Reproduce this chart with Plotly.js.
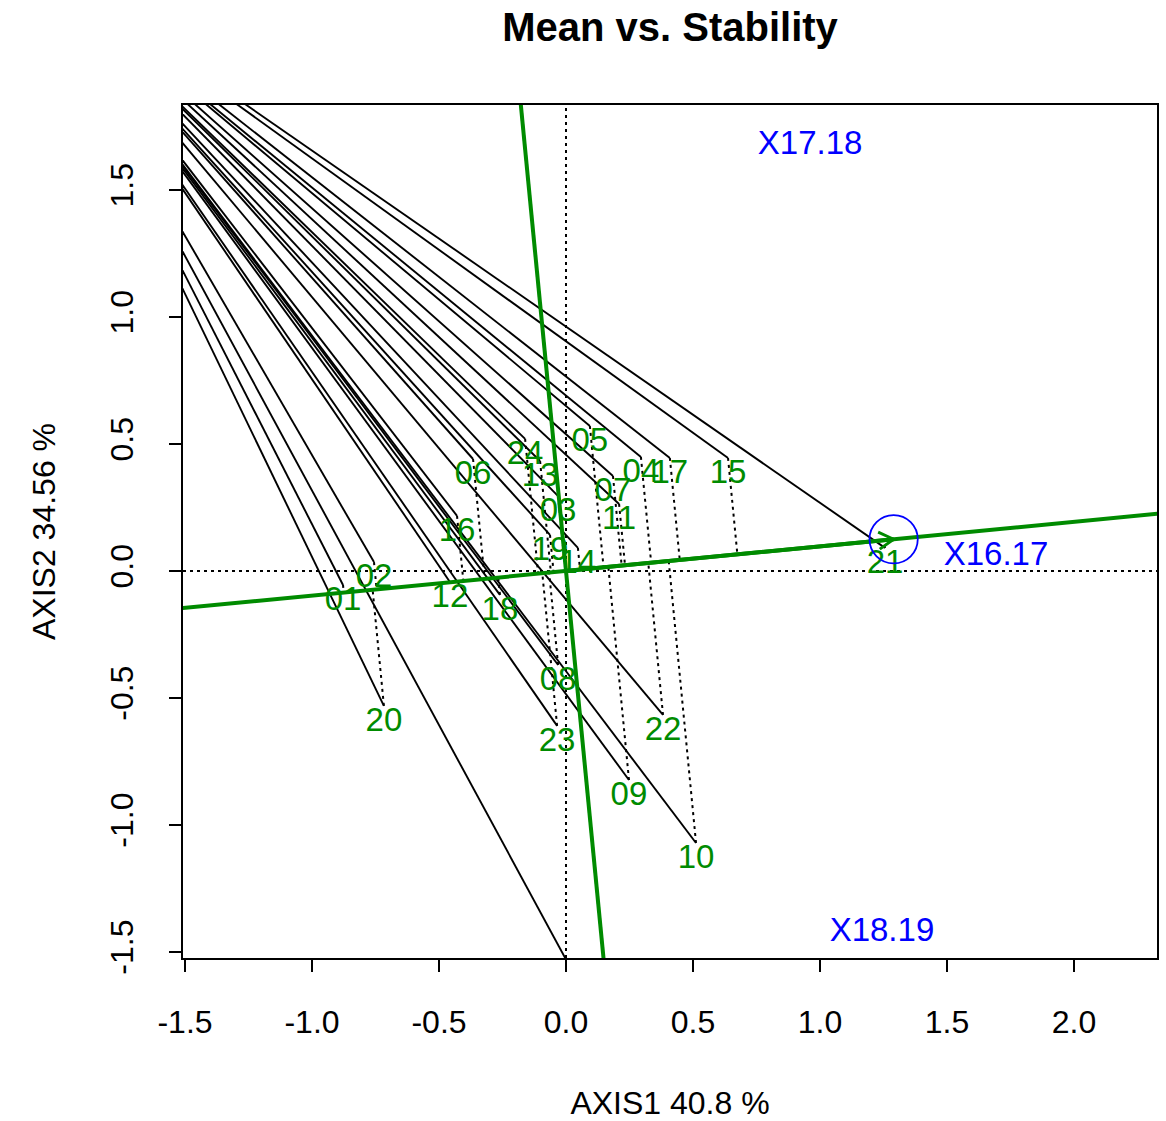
<!DOCTYPE html>
<html><head><meta charset="utf-8">
<script src="https://cdn.plot.ly/plotly-3.0.1.min.js"></script>
<style>html,body{margin:0;padding:0;background:#fff}</style>
</head><body><div id="chart" style="width:1166px;height:1121px"></div>
<script>
// Genotype scores (AXIS1, AXIS2)
const genotypes = ['01','02','03','04','05','06','07','08','09','10','11','12',
                   '13','14','15','16','17','18','19','20','21','22','23','24'];
const genoX = [-0.878,-0.756,-0.031,0.295,0.094,-0.366,0.185,-0.031,0.248,0.512,0.209,-0.457,
               -0.102,0.047,0.638,-0.429,0.409,-0.260,-0.063,-0.717,1.256,0.382,-0.035,-0.161];
const genoY = [-0.055,0.035,0.295,0.449,0.571,0.441,0.374,-0.370,-0.823,-1.071,0.264,-0.043,
               0.433,0.091,0.445,0.217,0.445,-0.094,0.142,-0.531,0.091,-0.567,-0.610,0.520];
// Environment scores
const environments = ['X16.17','X17.18','X18.19'];
const envX = [1.693, 0.961, 1.244];
const envY = [0.055, 1.673, -1.425];
// Average environment coordinate
const avgEnv = [1.29, 0.125];
// Common far point of the solid black lines, and the extra line end
const hubPoint = [-2.161, 2.461];
const extraLineEnd = [0.0, -1.53];
// Axis ticks
const xTicks = [-1.5,-1.0,-0.5,0.0,0.5,1.0,1.5,2.0];
const xTickText = ['-1.5','-1.0','-0.5','0.0','0.5','1.0','1.5','2.0'];
const yTicks = [-1.5,-1.0,-0.5,0.0,0.5,1.0,1.5];
const yTickText = ['-1.5','-1.0','-0.5','0.0','0.5','1.0','1.5'];
const xRange = [-1.508, 2.327];
const yRange = [-1.524, 1.835];

const GREEN = '#008B00', BLUE = '#0000FF';
const FONT = 'Liberation Sans, Arial, Helvetica, sans-serif';

// Black solid lines
const bx = [], by = [];
for (let i = 0; i < genotypes.length; i++) {
  bx.push(hubPoint[0], genoX[i], null);
  by.push(hubPoint[1], genoY[i], null);
}
bx.push(hubPoint[0], extraLineEnd[0]);
by.push(hubPoint[1], extraLineEnd[1]);

// Dotted projections onto the ATC abscissa
const ee = avgEnv[0]*avgEnv[0] + avgEnv[1]*avgEnv[1];
const dx = [], dy = [];
for (let i = 0; i < genotypes.length; i++) {
  const t = (genoX[i]*avgEnv[0] + genoY[i]*avgEnv[1]) / ee;
  dx.push(genoX[i], t*avgEnv[0], null);
  dy.push(genoY[i], t*avgEnv[1], null);
}

// ATC lines (through origin)
const big = 10;
const atcX = [-big*avgEnv[0], big*avgEnv[0]];
const atcY = [-big*avgEnv[1], big*avgEnv[1]];
const ordX = [big*avgEnv[1], -big*avgEnv[1]];
const ordY = [-big*avgEnv[0], big*avgEnv[0]];

// Arrow head at average environment
const th = Math.atan2(avgEnv[1], avgEnv[0]);
const L = 0.067, ang = Math.PI/6;
const ahX = [avgEnv[0] + L*Math.cos(th+Math.PI-ang), avgEnv[0], avgEnv[0] + L*Math.cos(th+Math.PI+ang)];
const ahY = [avgEnv[1] + L*Math.sin(th+Math.PI-ang), avgEnv[1], avgEnv[1] + L*Math.sin(th+Math.PI+ang)];

const circleR = 0.095;

const traces = [
  {x: bx, y: by, mode: 'lines', line: {color: '#000', width: 1.9}, hoverinfo: 'skip', showlegend: false},
  {x: dx, y: dy, mode: 'lines', line: {color: '#000', width: 2, dash: '3px,4px'}, hoverinfo: 'skip', showlegend: false},
  {x: genoX, y: genoY, mode: 'text', text: genotypes, textposition: 'bottom center',
   textfont: {family: FONT, size: 33, color: GREEN}, cliponaxis: false, showlegend: false},
  {x: envX, y: envY, mode: 'text', text: environments, textposition: 'middle center',
   textfont: {family: FONT, size: 33, color: BLUE}, cliponaxis: false, showlegend: false},
  {x: atcX, y: atcY, mode: 'lines', line: {color: GREEN, width: 4}, hoverinfo: 'skip', showlegend: false},
  {x: ordX, y: ordY, mode: 'lines', line: {color: GREEN, width: 4}, hoverinfo: 'skip', showlegend: false},
  {x: [0, avgEnv[0]], y: [0, avgEnv[1]], mode: 'lines', line: {color: GREEN, width: 4}, hoverinfo: 'skip', showlegend: false},
  {x: ahX, y: ahY, mode: 'lines', line: {color: GREEN, width: 3}, hoverinfo: 'skip', showlegend: false}
];

const layout = {
  width: 1166, height: 1121,
  margin: {l: 183, r: 9, t: 105, b: 163},
  paper_bgcolor: '#fff', plot_bgcolor: '#fff',
  font: {family: FONT, size: 32, color: '#000'},
  title: {text: '<b>Mean vs. Stability</b>', font: {family: FONT, size: 40, color: '#000'},
          x: 0.5, xref: 'paper', y: 1 - 27/1121, yref: 'container', yanchor: 'middle'},
  xaxis: {range: xRange, tickmode: 'array', tickvals: xTicks, ticktext: xTickText,
          ticks: 'outside', ticklen: 12, tickwidth: 2, tickcolor: '#000',
          showline: true, mirror: true, linecolor: '#000', linewidth: 2,
          showgrid: false, zeroline: false, ticklabelstandoff: 23,
          tickfont: {family: FONT, size: 32, color: '#000'},
          title: {text: 'AXIS1 40.8 %', font: {family: FONT, size: 32, color: '#000'}, standoff: 54}},
  yaxis: {range: yRange, tickmode: 'array', tickvals: yTicks, ticktext: yTickText,
          ticks: 'outside', ticklen: 12, tickwidth: 2, tickcolor: '#000',
          showline: true, mirror: true, linecolor: '#000', linewidth: 2,
          showgrid: false, zeroline: false, tickangle: -90, ticklabelstandoff: 23,
          tickfont: {family: FONT, size: 32, color: '#000'},
          title: {text: 'AXIS2 34.56 %', font: {family: FONT, size: 32, color: '#000'}, standoff: 39}},
  shapes: [
    {type: 'line', xref: 'x', yref: 'paper', x0: 0, x1: 0, y0: 0, y1: 1, layer: 'below',
     line: {color: '#000', width: 2, dash: '3px,4px'}},
    {type: 'line', xref: 'paper', yref: 'y', x0: 0, x1: 1, y0: 0, y1: 0, layer: 'below',
     line: {color: '#000', width: 2, dash: '3px,4px'}},
    {type: 'circle', xref: 'x', yref: 'y', x0: avgEnv[0]-circleR, x1: avgEnv[0]+circleR,
     y0: avgEnv[1]-circleR, y1: avgEnv[1]+circleR, line: {color: BLUE, width: 1.8}, layer: 'above'}
  ],
  showlegend: false
};

Plotly.newPlot('chart', traces, layout, {staticPlot: true, displayModeBar: false});
</script>
</body></html>
